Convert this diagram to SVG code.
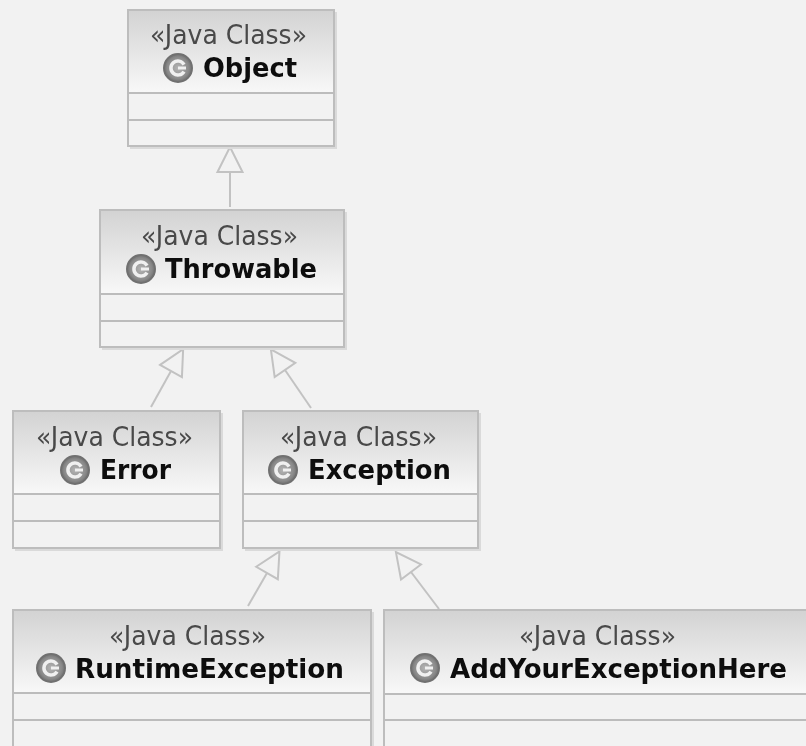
<svg xmlns="http://www.w3.org/2000/svg" width="806" height="746" viewBox="0 0 806 746">
<style>
.box{fill:#f2f2f2;stroke:#bdbdbd;stroke-width:2}
.head{fill:url(#hg)}
.div{stroke:#bcbcbc;stroke-width:2;fill:none}
.shadow{fill:none;stroke:#dadada;stroke-width:2}
.st{font-family:"DejaVu Sans Condensed","DejaVu Sans",sans-serif;font-size:26px;fill:#484848;text-anchor:start}
.nm{font-family:"DejaVu Sans Condensed","DejaVu Sans",sans-serif;font-weight:700;font-size:27px;fill:#0c0c0c;text-anchor:start}
.ci{fill:url(#cg);stroke:#707070;stroke-width:2}
.cc{fill:none;stroke:#f0f0f0;stroke-width:3.5}
.cd{fill:#f0f0f0}
.con{fill:none;stroke:#c2c2c2;stroke-width:2;marker-end:url(#tri)}
</style>
<defs>
<linearGradient id="hg" x1="0" y1="0" x2="0" y2="1"><stop offset="0" stop-color="#d3d3d3"/><stop offset="1" stop-color="#f8f8f8"/></linearGradient>
<radialGradient id="cg" cx="0.5" cy="0.5" r="0.55"><stop offset="0" stop-color="#b4b4b4"/><stop offset="0.7" stop-color="#8a8a8a"/><stop offset="1" stop-color="#666"/></radialGradient>
<marker id="tri" markerUnits="userSpaceOnUse" markerWidth="30" markerHeight="30" viewBox="0 0 30 30" refX="2" refY="15" orient="auto"><polygon points="2,2.500 27,15 2,27.500" fill="#f2f2f2" stroke="#c2c2c2" stroke-width="2"/></marker>
<filter id="soft" x="-5%" y="-5%" width="110%" height="110%"><feGaussianBlur stdDeviation="0.6"/></filter>
<symbol id="c" overflow="visible"><circle class="ci" cx="0" cy="0" r="14"/><path class="cc" d="M6 -3.500A7 7 0 1 0 6 3.500"/><rect class="cd" x="0" y="-1.500" width="8" height="3"/></symbol>
</defs>
<rect width="806" height="746" fill="#f2f2f2"/>
<g filter="url(#soft)">
<g id="connectors">
<path class="con" d="M230 207V172"/>
<path class="con" d="M151 407L171 371"/>
<path class="con" d="M311 408L285 370"/>
<path class="con" d="M248 606L267 573"/>
<path class="con" d="M439 609L411 572"/>
</g>
<g id="object">
<path class="shadow" d="M336 12V148H130"/>
<rect class="box" x="128" y="10" width="206" height="136"/>
<rect class="head" x="129" y="11" width="204" height="82"/>
<path class="div" d="M128 93H334M128 120H334"/>
<text class="st" x="150" y="44" textLength="157" lengthAdjust="spacingAndGlyphs">«Java Class»</text>
<use href="#c" x="178" y="68"/>
<text class="nm" x="203" y="77" textLength="94" lengthAdjust="spacingAndGlyphs">Object</text>
</g>
<g id="throwable">
<path class="shadow" d="M346 212V349H102"/>
<rect class="box" x="100" y="210" width="244" height="137"/>
<rect class="head" x="101" y="211" width="242" height="83"/>
<path class="div" d="M100 294H344M100 321H344"/>
<text class="st" x="141" y="245" textLength="157" lengthAdjust="spacingAndGlyphs">«Java Class»</text>
<use href="#c" x="141" y="269"/>
<text class="nm" x="165" y="278" textLength="152" lengthAdjust="spacingAndGlyphs">Throwable</text>
</g>
<g id="error">
<path class="shadow" d="M222 413V550H15"/>
<rect class="box" x="13" y="411" width="207" height="137"/>
<rect class="head" x="14" y="412" width="205" height="82"/>
<path class="div" d="M13 494H220M13 521H220"/>
<text class="st" x="36" y="446" textLength="157" lengthAdjust="spacingAndGlyphs">«Java Class»</text>
<use href="#c" x="75" y="470"/>
<text class="nm" x="100" y="479" textLength="71" lengthAdjust="spacingAndGlyphs">Error</text>
</g>
<g id="exception">
<path class="shadow" d="M480 413V550H245"/>
<rect class="box" x="243" y="411" width="235" height="137"/>
<rect class="head" x="244" y="412" width="233" height="82"/>
<path class="div" d="M243 494H478M243 521H478"/>
<text class="st" x="280" y="446" textLength="157" lengthAdjust="spacingAndGlyphs">«Java Class»</text>
<use href="#c" x="283" y="470"/>
<text class="nm" x="308" y="479" textLength="143" lengthAdjust="spacingAndGlyphs">Exception</text>
</g>
<g id="runtimeexception">
<path class="shadow" d="M373 612V760"/>
<rect class="box" x="13" y="610" width="358" height="150"/>
<rect class="head" x="14" y="611" width="356" height="82"/>
<path class="div" d="M13 693H371M13 720H371"/>
<text class="st" x="109" y="645" textLength="157" lengthAdjust="spacingAndGlyphs">«Java Class»</text>
<use href="#c" x="51" y="668"/>
<text class="nm" x="75" y="678" textLength="269" lengthAdjust="spacingAndGlyphs">RuntimeException</text>
</g>
<g id="addyourexceptionhere">
<rect class="box" x="384" y="610" width="430" height="150"/>
<rect class="head" x="385" y="611" width="421" height="82"/>
<path class="div" d="M384 694H806M384 720H806"/>
<text class="st" x="519" y="645" textLength="157" lengthAdjust="spacingAndGlyphs">«Java Class»</text>
<use href="#c" x="425" y="668"/>
<text class="nm" x="450" y="678" textLength="337" lengthAdjust="spacingAndGlyphs">AddYourExceptionHere</text>
</g>
</g>
</svg>
